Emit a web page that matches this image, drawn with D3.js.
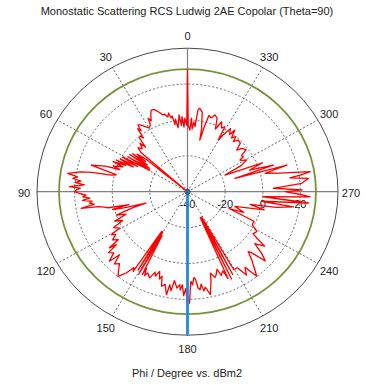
<!DOCTYPE html>
<html>
<head>
<meta charset="utf-8">
<script src="https://d3js.org/d3.v7.min.js"></script>
<style>
  body { margin: 0; background: #fff; }
  text { font-family: "Liberation Sans", Arial, sans-serif; fill: #222; }
</style>
</head>
<body>
<div id="chart"></div>
<script>
// Phi (degree) and monostatic RCS (dBm2)
const phiDeg = [
  0, 0.6, 2, 3, 4, 5, 6, 7, 8, 9, 10, 11, 12, 13, 14, 16, 17, 19, 21, 23, 24, 25, 26, 27, 28, 30,
  32, 34, 35.3, 36, 37, 38, 39, 40.5, 41, 42, 43, 45, 47, 48.5, 49.5, 50.5, 52, 53, 54, 55, 56, 57,
  58.4, 59, 60.8, 62, 63, 64.4, 65, 66, 67, 68, 70, 71, 72, 73.8, 75, 76, 77.1, 78, 79, 80.9, 82, 83,
  84, 85, 86, 87.4, 88, 89, 90, 91, 92, 93, 94, 95, 96, 97, 98, 99.3, 100, 101, 102, 103, 104, 105,
  106, 107, 109, 111, 113, 115, 117, 119.3, 120.6, 122, 124, 126, 127, 128, 129, 131, 133, 134.2,
  136, 138, 140, 142, 143, 144.3, 146, 147, 148.2, 149, 149.6, 150.6, 151, 152.5, 153,
  154, 155, 157.3, 159, 160, 161.6, 163, 164, 165.3, 167, 169, 169.7, 171, 172, 174, 175.5, 176,
  177, 178, 179, 180, 181, 182, 183, 184, 185, 186, 187, 188, 189, 190, 192, 194, 195, 197, 198,
  200, 201, 203, 204, 205, 205.7, 206.3, 207.5, 208, 209.5, 212, 214, 216, 218, 220, 222,
  224, 225, 227, 229, 231, 233.5, 235, 236, 239, 242, 245, 247, 249, 252, 254, 256, 258, 259.5,
  261.5, 262.3, 264.4, 266, 267.5, 268.4, 270, 271, 272.4, 274.4, 276.6, 278, 278.8, 279.7, 282,
  284, 285.7, 286.5, 288, 290, 292, 295, 297, 299.4, 301, 302.3, 303.3, 305, 307, 310, 311.6, 314,
  316.9, 318.9, 320, 322, 323.8, 325, 327, 329, 330.5, 331.2, 333, 335, 337, 339, 341.2, 343, 345,
  346, 347.2, 348, 350, 352, 353, 353.8, 355, 356, 357, 358, 359.4, 360
];
const rcsDbm2 = [
  28.3, -3, 1, -4, 2, -3, 3, -1, -4, 1, -2, 3, 2, 5, 3, 5, 4.7, 7, 9, 9.4, 8, 6, 4, 6, 2, 1,
  3, 5, 5.6, 2, 4, -2, 0, -0.8, -3, -6.7, -3, -6, -4, -7, -45, -11.9, -6, -12, -4, -14, -3, -16,
  -2.8, -16.6, -0.5, -10, 0, -8, 1.8, -4, 3, -3, 2, -2, 6, 13.3, 4, -1, 1.6, 12, 18, 24.5, 19, 21.5,
  17, 20, 15, 22.8, 17, 19, 20.1, 17.4, 14, 15.7, 12, 16, 11, 12.5, 10, 17.3, 8, 5, 3, -8, 1, -5,
  -17, -10, 0, -5, 2, -2, 4, 1.4, 7.1, 5, 8, 5.5, 12, 8, 14, 12, 16.8, 10.4,
  16, 14, 17, 20, 18, 15.8, 11, 13, -14, 11, -14, 12.8, -12, 12, 8,
  12, 10, 12.1, 8, 10, 6.8, 11, 9, 14.5, 13, 18.5, 12.7, 16, 10, 14, 12, 15,
  12, 18, 14, 23, 22, 10, 12, 8, 9, 14, 15, 12, 16, 14, 18.6, 11.6, 7, 10, 9,
  6, 10, 8, 13, -24, 14, -23, 12, -24, 10, 10, 16, 12, 19.8, 15, 11,
  6.4, 8, 16.6, 12, 6, 11, 5, 2, 3, -1, -1, -16, -8, -13.5, -8, 2, -6, 8,
  17, -0.2, 24.6, 0.4, 25.2, 20.8, 12, 21, 5.7, 20.9, 24.8, 15, 20.6, 26.2, 10,
  2.5, 14.9, -13.7, 8, -5, 3, -18, -8, -3.9, -6, -7, -4.5, -5, -1, -2.4, -5, -1,
  -0.6, -3, 0, -2, 2.6, -1, 2, -3, -6.9, 1.3, 0, 3, -2, 4, 5.2, 3, 4,
  -2, -10.5, -4, 5, 7, 6, -3.5, -1, -5, 1, -5.6, -3, 28.3
];

const ringLevels = [-20, 0, 20];
const ringLabels = [-40, -20, 0, 20];
const angleTicks = [0, 30, 60, 90, 120, 150, 180, 210, 240, 270, 300, 330];
const maxLevel = 28.3;     // green circle
const mainLobeDeg = 180;   // blue marker

const width = 373, height = 385;
const cx = 187.5, cy = 191.7, rx = 150.5, ry = 143.5;

const svg = d3.select('#chart').append('svg')
  .attr('width', width)
  .attr('height', height);

const r = d3.scaleLinear().domain([-40, 40]).range([0, 1]).clamp(true);
const rad = d => d * Math.PI / 180;
const px = (phi, v) => cx - rx * r(v) * Math.sin(rad(phi));
const py = (phi, v) => cy - ry * r(v) * Math.cos(rad(phi));

// title
svg.append('text')
  .attr('x', 187).attr('y', 15)
  .attr('text-anchor', 'middle')
  .attr('font-size', '11px')
  .text('Monostatic Scattering RCS Ludwig 2AE Copolar (Theta=90)');

const grid = svg.append('g');

// dashed rings
grid.selectAll('ellipse.ring')
  .data(ringLevels)
  .enter().append('ellipse')
  .attr('class', 'ring')
  .attr('cx', cx).attr('cy', cy)
  .attr('rx', d => rx * r(d))
  .attr('ry', d => ry * r(d))
  .attr('fill', 'none')
  .attr('stroke', '#555')
  .attr('stroke-width', 0.9)
  .attr('stroke-dasharray', '2,2');

// dashed spokes
grid.selectAll('line.spoke')
  .data(angleTicks.filter(a => a % 90 !== 0))
  .enter().append('line')
  .attr('class', 'spoke')
  .attr('x1', cx).attr('y1', cy)
  .attr('x2', d => px(d, 40))
  .attr('y2', d => py(d, 40))
  .attr('stroke', '#555')
  .attr('stroke-width', 0.9)
  .attr('stroke-dasharray', '2,2');

// solid axes
grid.selectAll('line.axis')
  .data([0, 90])
  .enter().append('line')
  .attr('class', 'axis')
  .attr('x1', d => px(d, 40)).attr('y1', d => py(d, 40))
  .attr('x2', d => px(d + 180, 40)).attr('y2', d => py(d + 180, 40))
  .attr('stroke', '#808080')
  .attr('stroke-width', 1.2);

// outer circle
grid.append('ellipse')
  .attr('cx', cx).attr('cy', cy)
  .attr('rx', rx).attr('ry', ry)
  .attr('fill', 'none')
  .attr('stroke', '#333')
  .attr('stroke-width', 0.9);

// max level circle
svg.append('ellipse')
  .attr('cx', cx).attr('cy', cy)
  .attr('rx', rx * r(maxLevel)).attr('ry', ry * r(maxLevel))
  .attr('fill', 'none')
  .attr('stroke', '#77933c')
  .attr('stroke-width', 1.8);

// angle labels
svg.selectAll('text.ang')
  .data(angleTicks)
  .enter().append('text')
  .attr('class', 'ang')
  .attr('x', d => cx - (rx + 13) * Math.sin(rad(d)))
  .attr('y', d => cy + 1 - (ry + 13) * Math.cos(rad(d)))
  .attr('text-anchor', 'middle')
  .attr('dominant-baseline', 'central')
  .attr('font-size', '11px')
  .text(d => d);

// radial labels
svg.selectAll('text.lev')
  .data(ringLabels)
  .enter().append('text')
  .attr('class', 'lev')
  .attr('x', d => cx + rx * r(d))
  .attr('y', cy + 12)
  .attr('text-anchor', 'middle')
  .attr('dominant-baseline', 'central')
  .attr('font-size', '11px')
  .text(d => d);

// RCS curve
const line = d3.line()
  .x((d, i) => px(phiDeg[i], rcsDbm2[i]))
  .y((d, i) => py(phiDeg[i], rcsDbm2[i]));

svg.append('path')
  .datum(phiDeg)
  .attr('d', line)
  .attr('fill', 'none')
  .attr('stroke', '#ff0000')
  .attr('stroke-width', 1.3)
  .attr('stroke-linejoin', 'round');

// main lobe marker
svg.append('line')
  .attr('x1', cx).attr('y1', cy)
  .attr('x2', px(mainLobeDeg, 40)).attr('y2', py(mainLobeDeg, 40))
  .attr('stroke', '#1e8ae6')
  .attr('stroke-width', 2.8);

svg.append('circle')
  .attr('cx', cx).attr('cy', cy)
  .attr('r', 2.6)
  .attr('fill', '#3d6f9e')
  .attr('stroke', '#333')
  .attr('stroke-width', 0.8);

// x label
svg.append('text')
  .attr('x', 187).attr('y', 377)
  .attr('text-anchor', 'middle')
  .attr('font-size', '11px')
  .text('Phi / Degree vs. dBm2');
</script>
</body>
</html>
